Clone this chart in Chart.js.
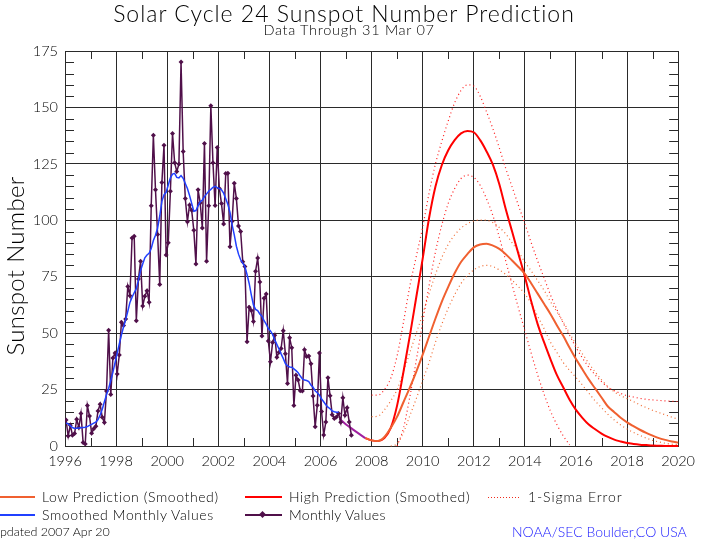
<!DOCTYPE html>
<html>
<head>
<meta charset="utf-8">
<script src="https://cdn.jsdelivr.net/npm/chart.js@4.4.1/dist/chart.umd.min.js"></script>
<style>
  html, body { margin: 0; padding: 0; background: #fff; }
  #wrap { position: relative; width: 702px; height: 542px; overflow: hidden;
          font-family: "Lato", "DejaVu Sans", sans-serif; font-weight: 300; color: #000; }
  #chart { position: absolute; left: 0; top: 0; }
  .txt { position: absolute; white-space: nowrap; line-height: 1; }
  .ln  { position: absolute; height: 0; border-top: 2px solid; }
  .title { left: 0; width: 688px; text-align: center; font-size: 23px; letter-spacing: 1px; top: 2px; }
  .sub   { left: 0; width: 698px; text-align: center; font-size: 14.5px; letter-spacing: 0.7px; top: 23px; }
  .ytitle { left: 15px; top: 266px; font-size: 24px; letter-spacing: 0.3px;
            transform: translate(-50%, -50%) rotate(-90deg); }
  .leg   { font-size: 14px; letter-spacing: 0.6px; }
  .dots  { position: absolute; height: 1px;
           background: repeating-linear-gradient(90deg, #f02a1a 0 1px, transparent 1px 3px); }
  .dia   { position: absolute; width: 5px; height: 5px; background: #50104a; transform: rotate(45deg); }
</style>
</head>
<body>
<div id="wrap">
  <canvas id="chart" width="702" height="542"></canvas>

  <div class="txt title">Solar Cycle 24 Sunspot Number Prediction</div>
  <div class="txt sub">Data Through 31 Mar 07</div>
  <div class="txt ytitle">Sunspot Number</div>

  <!-- legend row 1 -->
  <div class="ln" style="left:0;top:496px;width:35px;border-color:#f06030"></div>
  <div class="txt leg" style="left:42px;top:490px">Low Prediction (Smoothed)</div>
  <div class="ln" style="left:245px;top:496px;width:37px;border-color:#ff0000"></div>
  <div class="txt leg" style="left:289px;top:490px">High Prediction (Smoothed)</div>
  <div class="dots" style="left:488px;top:497px;width:31px"></div>
  <div class="txt leg" style="left:528px;top:490px;letter-spacing:0.9px">1-Sigma Error</div>

  <!-- legend row 2 -->
  <div class="ln" style="left:0;top:514px;width:35px;border-color:#2040ff"></div>
  <div class="txt leg" style="left:42px;top:508px">Smoothed Monthly Values</div>
  <div class="ln" style="left:245px;top:514px;width:37px;border-color:#50104a"></div>
  <div class="dia" style="left:260px;top:512px"></div>
  <div class="txt leg" style="left:289px;top:508px;letter-spacing:0.3px">Monthly Values</div>

  <!-- footer -->
  <div class="txt" style="left:-9px;top:526px;font-size:12.5px">Updated 2007 Apr 20</div>
  <div class="txt" style="left:512px;top:525px;font-size:14px;color:#2020ff">NOAA/SEC Boulder,CO USA</div>
</div>

<script>
// ── data ────────────────────────────────────────────────────────
// monthly sunspot numbers, Jan 1996 .. Mar 2007
const START_YEAR = 1996;
const monthlyValues = [
  11.5, 4.4, 9.2, 4.8, 5.5, 11.8, 8.2, 14.4, 1.6, 0.9, 17.9, 13.3,          // 1996
  5.7, 7.6, 8.7, 15.5, 18.5, 12.7, 10.4, 24.4, 51.3, 22.8, 39.0, 41.2,      // 1997
  31.9, 40.3, 54.8, 53.4, 56.3, 70.7, 66.6, 92.2, 92.9, 55.5, 74.0, 81.9,   // 1998
  62.0, 66.3, 68.8, 63.7, 106.4, 137.7, 113.5, 93.7, 71.5, 116.7, 133.2, 84.6, // 1999
  90.1, 112.9, 138.5, 125.5, 121.6, 124.9, 170.1, 130.5, 109.7, 99.4, 106.8, 104.4, // 2000
  95.6, 80.6, 113.5, 107.7, 96.6, 134.0, 81.8, 106.4, 150.7, 125.5, 106.5, 132.2, // 2001
  114.1, 107.4, 98.4, 120.7, 120.8, 88.3, 99.6, 116.4, 109.6, 97.5, 95.0, 81.6, // 2002
  79.5, 46.2, 61.5, 60.0, 55.2, 77.4, 83.3, 72.7, 48.7, 65.5, 67.3, 46.5,   // 2003
  37.3, 45.8, 49.1, 39.3, 41.5, 43.2, 51.1, 40.9, 27.7, 48.0, 43.5, 17.9,   // 2004
  31.3, 29.2, 24.5, 24.4, 42.6, 39.6, 39.9, 36.4, 22.1, 8.5, 18.0, 41.2,    // 2005
  15.3, 4.9, 10.6, 30.2, 22.3, 13.9, 12.2, 12.9, 14.4, 10.5, 21.4, 13.6,    // 2006
  16.9, 10.6, 4.8                                                           // 2007
];

// 13-month smoothed values, Jan 1996 .. Sep 2006
const smoothedValues = [
  10.2, 9.8, 9.0, 8.2, 7.8, 7.9, 8.0, 8.1, 8.2, 8.3, 8.6, 9.1,
  9.6, 10.1, 10.6, 11.7, 13.7, 16.3, 19.6, 22.7, 25.5, 29.0, 32.6, 36.9,
  41.0, 45.2, 49.2, 52.8, 56.0, 59.7, 63.6, 65.9, 67.9, 69.7, 73.5, 77.8,
  80.6, 83.4, 84.6, 85.4, 87.5, 91.0, 93.4, 96.6, 101.9, 108.4, 111.3, 112.4,
  115.6, 118.8, 120.5, 120.8, 119.0, 118.8, 119.8, 118.6, 116.3, 114.1, 111.0, 107.5,
  104.0, 104.3, 106.4, 108.2, 108.9, 110.5, 111.7, 112.9, 113.7, 114.6, 115.0, 114.5,
  114.0, 113.5, 112.0, 109.5, 107.0, 103.5, 98.0, 93.5, 88.5, 85.0, 82.5, 81.0,
  79.5, 76.0, 72.0, 67.0, 62.5, 60.5, 60.0, 58.5, 57.5, 55.5, 54.0, 52.0,
  51.0, 49.5, 47.0, 45.0, 43.0, 40.8, 38.8, 36.5, 35.5, 35.0, 34.9, 34.2,
  33.4, 32.5, 31.0, 29.7, 29.2, 29.0, 28.5, 27.0, 26.0, 24.5, 23.6, 22.5,
  20.8, 19.6, 18.3, 17.2, 16.5, 15.5, 15.2, 15.0, 15.0
];

// short extrapolation joining the smoothed curve to the predictions
const bridgeYears  = [2006.75, 2007.0, 2007.25, 2007.5, 2007.75];
const bridgeValues = [12, 9.5, 7.5, 5.5, 3.5];

// prediction grid, quarter years 2007.75 .. 2020
const predYears = [
  2007.75,
  2008, 2008.25, 2008.5, 2008.75, 2009, 2009.25, 2009.5, 2009.75,
  2010, 2010.25, 2010.5, 2010.75, 2011, 2011.25, 2011.5, 2011.75,
  2012, 2012.25, 2012.5, 2012.75, 2013, 2013.25, 2013.5, 2013.75,
  2014, 2014.25, 2014.5, 2014.75, 2015, 2015.25, 2015.5, 2015.75,
  2016, 2016.25, 2016.5, 2016.75, 2017, 2017.25, 2017.5, 2017.75,
  2018, 2018.25, 2018.5, 2018.75, 2019, 2019.25, 2019.5, 2019.75,
  2020
];
const highPred = [
  3.5,
  2.5, 2.2, 3.5, 8, 18, 33, 49, 66,
  83, 101, 115, 124.5, 131, 135.5, 138.5, 139.6,
  139, 135.5, 130.5, 124.5, 116, 105, 95, 85,
  75, 64, 54, 46, 38.5, 31.5, 26, 20.5,
  16, 12.5, 9.5, 7.4, 5.5, 4, 2.8, 2,
  1.3, 0.9, 0.6, 0.4, 0.2, 0.1, 0, 0,
  0
];
const highUpper = [
  null,
  22.5, 22.5, 25, 30, 40, 55, 71, 84,
  97, 112, 125, 135, 144, 152, 157.5, 160,
  159.5, 155, 148, 140.5, 132, 123, 114.8, 106.5,
  98.5, 90, 82, 74.5, 67, 60.5, 54.5, 49,
  43.7, 39, 35, 31.5, 28.5, 26, 24.5, 23.3,
  22.3, 21.7, 21.1, 20.7, 20.4, 20.2, 20, 19.8,
  19.7
];
const highLower = [
  null,
  null, null, null, null, 0, 8, 22, 38,
  55, 71, 86, 98, 107.5, 114, 118.5, 120,
  119, 115.5, 109.5, 102, 92.5, 82, 71.5, 61,
  51, 41, 31.5, 23, 15.5, 9.5, 4.5, 0.5,
  null, null, null, null, null, null, null, null,
  null, null, null, null, null, null, null, null,
  null
];
const lowPred = [
  3.5,
  2.5, 2.2, 4, 8, 13, 19.5, 26, 33,
  40.5, 48.5, 56.5, 64, 70.5, 76.5, 81.5, 85,
  88, 89.3, 89.6, 88.8, 87.3, 85, 82.2, 79.3,
  76.3, 72, 67.5, 63, 58.5, 53.5, 48.8, 43.5,
  38.5, 34, 29.5, 25.5, 21.5, 17.5, 15, 12.5,
  10.5, 8.8, 7.2, 5.8, 4.6, 3.5, 2.7, 2,
  1.5
];
const lowUpper = [
  null,
  13, 13.2, 16, 20, 25, 33, 41.5, 50,
  58.5, 67.5, 76, 83.5, 89.3, 93.5, 96.5, 98.5,
  99.7, 100.1, 100, 99, 96.8, 94, 90, 86,
  81.5, 77.5, 73.3, 69, 64, 59.5, 55, 50,
  45, 40.8, 36.7, 32.8, 29.3, 26.3, 24, 22.3,
  21, 19.7, 18.2, 17, 15.8, 14.8, 13.8, 12.8,
  11.9
];
const lowLower = [
  null,
  null, null, null, 0, 1, 6, 13.5, 21,
  29, 37, 46, 54, 61, 67, 72, 75.5,
  78, 79.5, 80, 79.5, 78, 76, 73.5, 70.5,
  67.4, 63, 57.5, 52, 46, 41.5, 37, 33.5,
  30.4, 27, 23.5, 20, 17, 14, 11.5, 9.3,
  7.5, 6, 4.7, 3.5, 2.5, 1.8, 1.2, 0.8,
  0.5
];

// ── helpers ─────────────────────────────────────────────────────
const monthX = i => START_YEAR + (i + 0.5) / 12;
const monthly = vals => vals.map((y, i) => ({ x: monthX(i), y }));
const paired = (xs, ys) => ys.map((y, i) => ({ x: xs[i], y }));

const GRID = '#2a2a2a';
const TICK_FONT = { family: 'Lato', size: 14.5, weight: '300' };

// short inward ticks (every 5 on y, odd years on x), like the IDL plot
const minorTicks = {
  id: 'minorTicks',
  beforeDatasetsDraw(chart) {
    const { ctx, chartArea: a, scales: { x, y } } = chart;
    ctx.save();
    ctx.strokeStyle = GRID;
    ctx.lineWidth = 1;
    ctx.beginPath();
    for (let v = 5; v < 175; v += 5) {
      if (v % 25 === 0) continue;
      const py = Math.round(y.getPixelForValue(v)) + 0.5;
      ctx.moveTo(a.left, py);      ctx.lineTo(a.left + 9, py);
      ctx.moveTo(a.right - 9, py); ctx.lineTo(a.right, py);
    }
    for (let yr = 1997; yr < 2020; yr += 2) {
      const px = Math.round(x.getPixelForValue(yr)) + 0.5;
      ctx.moveTo(px, a.bottom); ctx.lineTo(px, a.bottom - 8);
      ctx.moveTo(px, a.top);    ctx.lineTo(px, a.top + 8);
    }
    ctx.stroke();
    ctx.restore();
  }
};

const predLine = (data, color, order) => ({
  data, borderColor: color, borderWidth: 2, pointRadius: 0,
  cubicInterpolationMode: 'monotone', clip: 3, order
});
const sigmaLine = (data, color) => ({
  data, borderColor: color, borderWidth: 1.2, borderDash: [1, 3], pointRadius: 0,
  cubicInterpolationMode: 'monotone', spanGaps: false, clip: 3, order: 9
});

new Chart(document.getElementById('chart'), {
  type: 'line',
  data: {
    datasets: [
      { data: monthly(smoothedValues), borderColor: '#2040ff', borderWidth: 1.5,
        pointRadius: 0, order: 1 },
      { data: monthly(monthlyValues), borderColor: '#50104a', borderWidth: 1.5,
        pointStyle: 'rectRot', pointRadius: 2.5, pointBackgroundColor: '#50104a',
        pointBorderWidth: 0, order: 2 },
      predLine(paired(bridgeYears, bridgeValues), '#a020a0', 3),
      predLine(paired(predYears, highPred), '#ff0000', 4),
      predLine(paired(predYears, lowPred), '#f06030', 3),
      sigmaLine(paired(predYears, highUpper), '#ff1a1a'),
      sigmaLine(paired(predYears, highLower), '#ff1a1a'),
      sigmaLine(paired(predYears, lowUpper), '#f06a30'),
      sigmaLine(paired(predYears, lowLower), '#f06a30')
    ]
  },
  options: {
    responsive: false,
    animation: false,
    layout: { padding: { top: 51, right: 22, bottom: 66, left: 0 } },
    plugins: { legend: { display: false }, tooltip: { enabled: false } },
    scales: {
      x: {
        type: 'linear', min: 1996, max: 2020,
        afterFit: s => { s.height = 30; },
        ticks: { stepSize: 2, padding: 7, color: '#000', font: TICK_FONT,
                 maxRotation: 0, callback: v => String(v) },
        grid: { color: GRID, lineWidth: 1, drawTicks: false },
        border: { color: GRID }
      },
      y: {
        min: 0, max: 175,
        afterFit: s => { s.width = 65; },
        ticks: { stepSize: 25, padding: 7, color: '#000', font: TICK_FONT },
        grid: { color: GRID, lineWidth: 1, drawTicks: false },
        border: { color: GRID }
      }
    }
  },
  plugins: [minorTicks]
});
</script>
</body>
</html>
